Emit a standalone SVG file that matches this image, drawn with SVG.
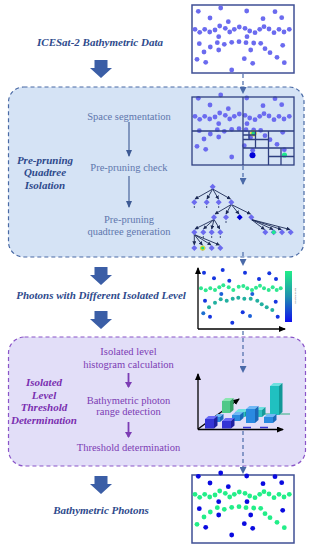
<svg xmlns="http://www.w3.org/2000/svg" width="315" height="550" viewBox="0 0 315 550">
<style>
.big{font-family:"Liberation Serif",serif;font-style:italic;font-weight:bold;font-size:11px;fill:#2e4a8c;text-anchor:middle}
.lab{font-family:"Liberation Serif",serif;font-style:italic;font-weight:bold;font-size:11px;fill:#2e4a8c;text-anchor:middle}
.plab{font-family:"Liberation Serif",serif;font-style:italic;font-weight:bold;font-size:11px;fill:#7a2fb0;text-anchor:middle}
.step{font-family:"Liberation Serif",serif;font-size:10.5px;fill:#5f77ad;text-anchor:middle}
.pstep{font-family:"Liberation Serif",serif;font-size:10.5px;fill:#7c3cb4;text-anchor:middle}
.blk{fill:#3b5ea6}
.conn{fill:none;stroke:#4a6aa8;stroke-width:1.2;stroke-dasharray:4 3}
.box{fill:#fff;stroke:#3f4f95;stroke-width:1.5}
.qt{fill:none;stroke:#2e3f80;stroke-width:1.3}
.edge{stroke:#1c2a55;stroke-width:0.9;fill:none}
.ax{stroke:#000;stroke-width:1.3;fill:none}
</style>
<defs>
<marker id="dh" markerUnits="userSpaceOnUse" markerWidth="7" markerHeight="7" refX="6" refY="3.5" orient="auto"><path d="M0,0 L7,3.5 L0,7 Z" fill="#4a6aa8"/></marker>
<marker id="gh" markerUnits="userSpaceOnUse" markerWidth="7" markerHeight="6" refX="6" refY="3" orient="auto"><path d="M0,0 L7,3 L0,6 Z" fill="#3d5a94"/></marker>
<marker id="ph" markerUnits="userSpaceOnUse" markerWidth="6" markerHeight="7" refX="5" refY="3.5" orient="auto"><path d="M0,0 L6,3.5 L0,7 Z" fill="#7c3cb4"/></marker>
<marker id="th" markerUnits="userSpaceOnUse" markerWidth="4" markerHeight="4" refX="3.5" refY="2" orient="auto"><path d="M0,0 L4,2 L0,4 Z" fill="#1c2a55"/></marker>
<marker id="ah" markerUnits="userSpaceOnUse" markerWidth="7" markerHeight="6" refX="6" refY="3" orient="auto"><path d="M0,0 L7,3 L0,6 Z" fill="#000"/></marker>
<linearGradient id="cb" x1="0" y1="0" x2="0" y2="1"><stop offset="0" stop-color="#22ee88"/><stop offset="0.5" stop-color="#2090b0"/><stop offset="1" stop-color="#1010ee"/></linearGradient>
<path id="nd" d="M0,-3 L3,0 L0,3 L-3,0 Z"/>
<g id="noise">
<circle cx="6.3" cy="6.3" r="2.4"/><circle cx="28.7" cy="3" r="2.4"/><circle cx="54.7" cy="6" r="2.4"/><circle cx="83" cy="6.7" r="2.4"/><circle cx="18" cy="13" r="2.4"/><circle cx="36.3" cy="16.7" r="2.4"/><circle cx="71" cy="13.7" r="2.4"/><circle cx="89.7" cy="12.7" r="2.4"/><circle cx="26.7" cy="31.7" r="2.4"/><circle cx="55" cy="31.7" r="2.4"/><circle cx="7.3" cy="38.7" r="2.4"/><circle cx="90.7" cy="40.3" r="2.4"/><circle cx="26.7" cy="45" r="2.4"/><circle cx="58.7" cy="45" r="2.4"/><circle cx="13.7" cy="57.3" r="2.4"/><circle cx="52.3" cy="53.7" r="2.4"/><circle cx="60.7" cy="58.3" r="2.4"/><circle cx="39.7" cy="65" r="2.4"/>
</g>
<g id="sig">
<circle cx="3" cy="24.3" r="2.4"/><circle cx="7.7" cy="27.3" r="2.4"/><circle cx="12.7" cy="24.3" r="2.4"/><circle cx="17.7" cy="27" r="2.4"/><circle cx="23" cy="25" r="2.4"/><circle cx="27.7" cy="21" r="2.4"/><circle cx="33.3" cy="23.3" r="2.4"/><circle cx="37.7" cy="27" r="2.4"/><circle cx="42.3" cy="24.3" r="2.4"/><circle cx="47.3" cy="22" r="2.4"/><circle cx="53" cy="23.3" r="2.4"/><circle cx="57.7" cy="26" r="2.4"/><circle cx="63" cy="27.7" r="2.4"/><circle cx="67.7" cy="24.3" r="2.4"/><circle cx="72" cy="21.7" r="2.4"/><circle cx="77" cy="24" r="2.4"/><circle cx="82" cy="27.7" r="2.4"/><circle cx="87" cy="24.3" r="2.4"/><circle cx="92" cy="27" r="2.4"/><circle cx="97.3" cy="24.3" r="2.4"/>
<circle cx="18.3" cy="42" r="2.4"/><circle cx="25.3" cy="37.7" r="2.4"/><circle cx="32.3" cy="39.3" r="2.4"/><circle cx="39.7" cy="37.3" r="2.4"/><circle cx="47" cy="36.7" r="2.4"/><circle cx="54" cy="37.7" r="2.4"/><circle cx="61.7" cy="38" r="2.4"/><circle cx="68.7" cy="38.3" r="2.4"/><circle cx="12" cy="47" r="2.4"/><circle cx="73" cy="43.7" r="2.4"/><circle cx="78" cy="47.7" r="2.4"/><circle cx="5" cy="54.3" r="2.4"/><circle cx="85" cy="52.3" r="2.4"/><circle cx="92.3" cy="57.7" r="2.4"/>
</g>
<path id="blockarrow" d="M-6.5,0 h13 v8 h4.5 l-11,10 l-11,-10 h4.5 z"/>
</defs>

<rect width="315" height="550" fill="#fff"/>

<!-- big block arrows -->
<g id="flow-arrows" class="blk">
<use href="#blockarrow" transform="translate(101,60)"/>
<use href="#blockarrow" transform="translate(101,267)"/>
<use href="#blockarrow" transform="translate(101,311)"/>
<use href="#blockarrow" transform="translate(101,476)"/>
</g>

<!-- stage containers -->
<g id="stage-quadtree">
<rect x="8.5" y="87" width="295.5" height="170" rx="15" fill="#d5e3f5" stroke="#4a6aa5" stroke-width="1.2" stroke-dasharray="4 3"/>
<text class="lab" x="45" y="163.5">Pre-pruning</text>
<text class="lab" x="45" y="176">Quadtree</text>
<text class="lab" x="45" y="188.5">Isolation</text>
</g>
<g id="stage-threshold">
<rect x="8.5" y="337" width="297" height="129" rx="16" fill="#e2def8" stroke="#8a55c8" stroke-width="1.2" stroke-dasharray="4 3"/>
<text class="plab" x="44" y="386">Isolated</text>
<text class="plab" x="44" y="398.5">Level</text>
<text class="plab" x="44" y="411">Threshold</text>
<text class="plab" x="44" y="423.5">Determination</text>
</g>

<!-- main labels -->
<g id="label-data"><text class="big" x="100" y="46">ICESat-2 Bathymetric Data</text></g>
<g id="label-photons"><text class="big" x="101" y="298.5">Photons with Different Isolated Level</text></g>
<g id="label-bathy"><text class="big" x="101" y="514">Bathymetric Photons</text></g>

<!-- step texts -->
<g id="step-space"><text class="step" x="129" y="120">Space segmentation</text></g>
<g id="step-check"><text class="step" x="129" y="171">Pre-pruning check</text></g>
<g id="step-gen"><text class="step" x="129" y="223">Pre-pruning</text><text class="step" x="129" y="235">quadtree generation</text></g>
<g id="step-hist"><text class="pstep" x="128.5" y="355">Isolated level</text><text class="pstep" x="128.5" y="367.5">histogram calculation</text></g>
<g id="step-range"><text class="pstep" x="128.5" y="403.5">Bathymetric photon</text><text class="pstep" x="128.5" y="415">range detection</text></g>
<g id="step-thr"><text class="pstep" x="128.5" y="451">Threshold determination</text></g>

<!-- connectors -->
<g id="connectors">
<line x1="129" y1="122" x2="129" y2="156" stroke="#3d5a94" stroke-width="1.1" marker-end="url(#gh)"/>
<line x1="129" y1="176" x2="129" y2="207" stroke="#3d5a94" stroke-width="1.1" marker-end="url(#gh)"/>
<line x1="128.5" y1="373" x2="128.5" y2="387" stroke="#7c3cb4" stroke-width="1.8" marker-end="url(#ph)"/>
<line x1="128.5" y1="422" x2="128.5" y2="437" stroke="#7c3cb4" stroke-width="1.8" marker-end="url(#ph)"/>
<line class="conn" x1="243" y1="74" x2="243" y2="93" marker-end="url(#dh)"/>
<line class="conn" x1="243" y1="166" x2="243" y2="184" marker-end="url(#dh)"/>
<line class="conn" x1="243" y1="252" x2="243" y2="265" marker-end="url(#dh)"/>
<line class="conn" x1="243" y1="331" x2="243" y2="372" marker-end="url(#dh)"/>
<line class="conn" x1="243" y1="431" x2="243" y2="473" marker-end="url(#dh)"/>
</g>

<!-- top raw data -->
<g id="raw-data">
<rect class="box" x="192" y="5" width="102" height="68"/>
<use href="#noise" transform="translate(192,5)" fill="#6b6bef"/>
<use href="#sig" transform="translate(192,5)" fill="#6b6bef"/>
</g>

<!-- quadtree segmentation -->
<g id="quadtree-space">
<rect x="192" y="97" width="102" height="68" fill="#d5e3f5"/>
<use href="#noise" transform="translate(192,92)" fill="#6b6bef"/>
<use href="#sig" transform="translate(192,92)" fill="#6b6bef"/>
<circle cx="253.5" cy="133.3" r="3.2" fill="#e6e020"/><circle cx="253.5" cy="133.3" r="2" fill="#20d880"/>
<circle cx="252.5" cy="155.3" r="3" fill="#0000d8"/>
<circle cx="284.5" cy="155" r="2.6" fill="#20e890"/>
<rect class="qt" x="192" y="97" width="102" height="68"/>
<path class="qt" d="M243,97V165 M192,131H294 M268.5,131V165 M243,148H294 M255.5,131V148 M243,139.5H268.5 M249,131V139.5 M243,135H255.5 M281,148V165 M268.5,156.5H294"/>
</g>

<!-- quadtree structure -->
<g id="quadtree-tree">
<g class="edge" marker-end="url(#th)">
<line x1="212.7" y1="189" x2="195" y2="199"/><line x1="212.7" y1="189" x2="207" y2="199"/><line x1="212.7" y1="189" x2="218.5" y2="199"/><line x1="212.7" y1="189" x2="230.5" y2="199"/>
<line x1="231.3" y1="204.5" x2="215" y2="214"/><line x1="231.3" y1="204.5" x2="226" y2="214"/><line x1="231.3" y1="204.5" x2="239" y2="214"/><line x1="231.3" y1="204.5" x2="250.5" y2="214"/>
<line x1="214" y1="219.5" x2="195" y2="229"/><line x1="214" y1="219.5" x2="203.5" y2="229"/><line x1="214" y1="219.5" x2="211.7" y2="229"/><line x1="214" y1="219.5" x2="219.8" y2="229"/>
<line x1="251.3" y1="219.5" x2="264.5" y2="229.5"/><line x1="251.3" y1="219.5" x2="273" y2="229.5"/><line x1="251.3" y1="219.5" x2="281.3" y2="229.5"/><line x1="251.3" y1="219.5" x2="290" y2="229.5"/>
<line x1="194.3" y1="234.5" x2="194.3" y2="244.8"/><line x1="194.3" y1="234.5" x2="202.3" y2="245"/><line x1="194.3" y1="234.5" x2="211" y2="245"/><line x1="194.3" y1="234.5" x2="219.5" y2="245"/>
</g>
<g stroke="#1c2a55" stroke-width="0.8">
<path d="M194.3,206v2 M206.7,206v2 M218.7,206v2 M226,221v2 M203.3,236v2 M211.7,236v2 M220.3,236v2"/>
</g>
<g fill="#6b6bef">
<use href="#nd" x="212.7" y="186.7"/>
<use href="#nd" x="194.3" y="202.3"/><use href="#nd" x="206.7" y="202.3"/><use href="#nd" x="218.7" y="202.3"/><use href="#nd" x="231.3" y="202.3"/>
<use href="#nd" x="214" y="217.3"/><use href="#nd" x="226" y="217.3"/><use href="#nd" x="251.3" y="217.3"/>
<use href="#nd" x="194.3" y="232.3"/><use href="#nd" x="203.3" y="232.3"/><use href="#nd" x="211.7" y="232.3"/><use href="#nd" x="220.3" y="232.3"/>
<use href="#nd" x="265.3" y="232.3"/><use href="#nd" x="282" y="232.3"/><use href="#nd" x="290.7" y="232.3"/>
<use href="#nd" x="194.3" y="248"/><use href="#nd" x="211.7" y="248"/><use href="#nd" x="220.3" y="248"/>
</g>
<use href="#nd" x="239.7" y="217.3" fill="#0000d8"/>
<use href="#nd" x="273.7" y="232.3" fill="#6b6bef"/><circle cx="273.7" cy="232.3" r="2" fill="#20e890"/>
<use href="#nd" x="202.7" y="248" fill="#6b6bef"/><circle cx="202.7" cy="248" r="2.6" fill="#e6e020"/><circle cx="202.7" cy="248" r="1.6" fill="#20d880"/>
</g>

<!-- isolated level scatter -->
<g id="isolation-plot">
<g fill="#1535e0">
<circle cx="204" cy="272.7" r="2"/><circle cx="214" cy="278.3" r="2"/><circle cx="222.7" cy="270" r="2"/><circle cx="245" cy="272.7" r="2"/><circle cx="229.3" cy="280.7" r="2"/><circle cx="259" cy="279" r="2"/><circle cx="269.3" cy="273.3" r="2"/><circle cx="276" cy="279" r="2"/><circle cx="221.3" cy="294" r="2" fill="#1c60d8"/><circle cx="252.3" cy="294" r="2" fill="#1c60d8"/><circle cx="205" cy="300.7" r="2"/><circle cx="275.7" cy="301.7" r="2"/><circle cx="203.3" cy="313.3" r="2" fill="#1c70d0"/><circle cx="210" cy="316.7" r="2"/><circle cx="242.7" cy="312.3" r="2"/><circle cx="250" cy="316" r="2" fill="#1c60d8"/><circle cx="277.7" cy="316.7" r="2"/><circle cx="232.3" cy="322.7" r="2"/>
</g>
<g fill="#2ee890">
<circle cx="201" cy="288.3" r="2"/><circle cx="205.7" cy="290.3" r="2"/><circle cx="210.3" cy="288.3" r="2"/><circle cx="215" cy="290" r="2"/><circle cx="219.3" cy="287.3" r="2"/><circle cx="223.3" cy="285.3" r="2"/><circle cx="228.7" cy="287.3" r="2"/><circle cx="233.3" cy="290" r="2"/><circle cx="238.7" cy="286.7" r="2"/><circle cx="243.3" cy="286" r="2"/><circle cx="247.3" cy="288.3" r="2"/><circle cx="252" cy="290" r="2"/><circle cx="256" cy="287.7" r="2"/><circle cx="260" cy="285.7" r="2"/><circle cx="264" cy="288.3" r="2"/><circle cx="268.7" cy="290" r="2"/><circle cx="272.7" cy="287.3" r="2"/><circle cx="276.7" cy="290" r="2"/><circle cx="280.7" cy="288.3" r="2"/>
</g>
<g fill="#22b0a0">
<circle cx="209" cy="307.3" r="2"/><circle cx="215" cy="302.7" r="2"/><circle cx="220.7" cy="299.3" r="2"/><circle cx="226.7" cy="300.7" r="2"/><circle cx="232.7" cy="298.7" r="2"/><circle cx="238.3" cy="297.7" r="2"/><circle cx="244.3" cy="298.7" r="2"/><circle cx="250.7" cy="298.7" r="2"/><circle cx="257.3" cy="300.7" r="2"/><circle cx="261.7" cy="304.3" r="2"/><circle cx="266.7" cy="307.3" r="2"/><circle cx="272.3" cy="310" r="2"/>
</g>
<rect x="285" y="271" width="7" height="51" fill="url(#cb)"/>
<text x="295.5" y="296" transform="rotate(-90 295.5 296)" font-family="Liberation Sans, sans-serif" font-size="2.5" fill="#666" text-anchor="middle">Isolation depth</text>
<path class="ax" d="M198,329 V268" marker-end="url(#ah)"/>
<path class="ax" d="M198,329 H285" marker-end="url(#ah)"/>
</g>

<!-- histogram -->
<g id="histogram">
<path class="ax" d="M198,429 L239,399" marker-end="url(#ah)"/>
<path d="M238,414 H290" stroke="#30b080" stroke-width="1.2"/>
<!-- back row -->
<g>
<polygon points="270,386 273.5,383 282.5,383 279,386" fill="#6ee0e0"/><rect x="270" y="386" width="9" height="29" fill="#20c0c0"/><polygon points="279,386 282.5,383 282.5,412 279,415" fill="#129898"/>
<polygon points="235,412 238.5,409 248.5,409 245,412" fill="#6ee0e0"/><rect x="235" y="412" width="10" height="5" fill="#30c0c0"/><polygon points="245,412 248.5,409 248.5,414 245,417" fill="#159a9a"/>
<polygon points="256,410 259.5,407 265.5,407 262,410" fill="#6ee0e0"/><rect x="256" y="410" width="6" height="7" fill="#30c0c0"/><polygon points="262,410 265.5,407 265.5,414 262,417" fill="#159a9a"/>
<polygon points="222,401 225.5,398 233.5,398 230,401" fill="#8ae6b0"/><rect x="222" y="401" width="8" height="12" fill="#50c888"/><polygon points="230,401 233.5,398 233.5,410 230,413" fill="#35a068"/>
</g>
<!-- middle row -->
<g>
<polygon points="214,417 217.5,414 223.5,414 220,417" fill="#70b8f5"/><rect x="214" y="417" width="6" height="5" fill="#2a8ae0"/><polygon points="220,417 223.5,414 223.5,419 220,422" fill="#1a68b8"/>
<polygon points="232,415 235.5,412 243.5,412 240,415" fill="#70b8f5"/><rect x="232" y="415" width="8" height="6" fill="#2a8ae0"/><polygon points="240,415 243.5,412 243.5,418 240,421" fill="#1a68b8"/>
<polygon points="246,409 249.5,406 258.5,406 255,409" fill="#70b8f5"/><rect x="246" y="409" width="9" height="14" fill="#2a8ae0"/><polygon points="255,409 258.5,406 258.5,420 255,423" fill="#1a68b8"/>
<polygon points="264,417 267.5,414 276.5,414 273,417" fill="#70b8f5"/><rect x="264" y="417" width="9" height="6" fill="#2a8ae0"/><polygon points="273,417 276.5,414 276.5,420 273,423" fill="#1a68b8"/>
</g>
<!-- front row -->
<g>
<polygon points="205,419 208.5,416 217.5,416 214,419" fill="#6a6af5"/><rect x="205" y="419" width="9" height="9.5" fill="#3535d5"/><polygon points="214,419 217.5,416 217.5,425.5 214,428.5" fill="#2020a0"/>
<polygon points="222,421 225.5,418 234.5,418 231,421" fill="#6a6af5"/><rect x="222" y="421" width="9" height="7.5" fill="#3535d5"/><polygon points="231,421 234.5,418 234.5,425.5 231,428.5" fill="#2020a0"/>
<path d="M243,427.5 h8 M260,427.5 h8" stroke="#3535d5" stroke-width="1.5"/>
</g>
<path class="ax" d="M198,429.5 V374" marker-end="url(#ah)"/>
<path class="ax" d="M198,429.5 H283" marker-end="url(#ah)"/>
</g>

<!-- bathymetric photons result -->
<g id="result">
<rect class="box" x="192" y="475" width="102" height="68"/>
<use href="#noise" transform="translate(192,470)" fill="#0a0ae0"/>
<use href="#sig" transform="translate(192,470)" fill="#22ee88"/>
</g>
</svg>
